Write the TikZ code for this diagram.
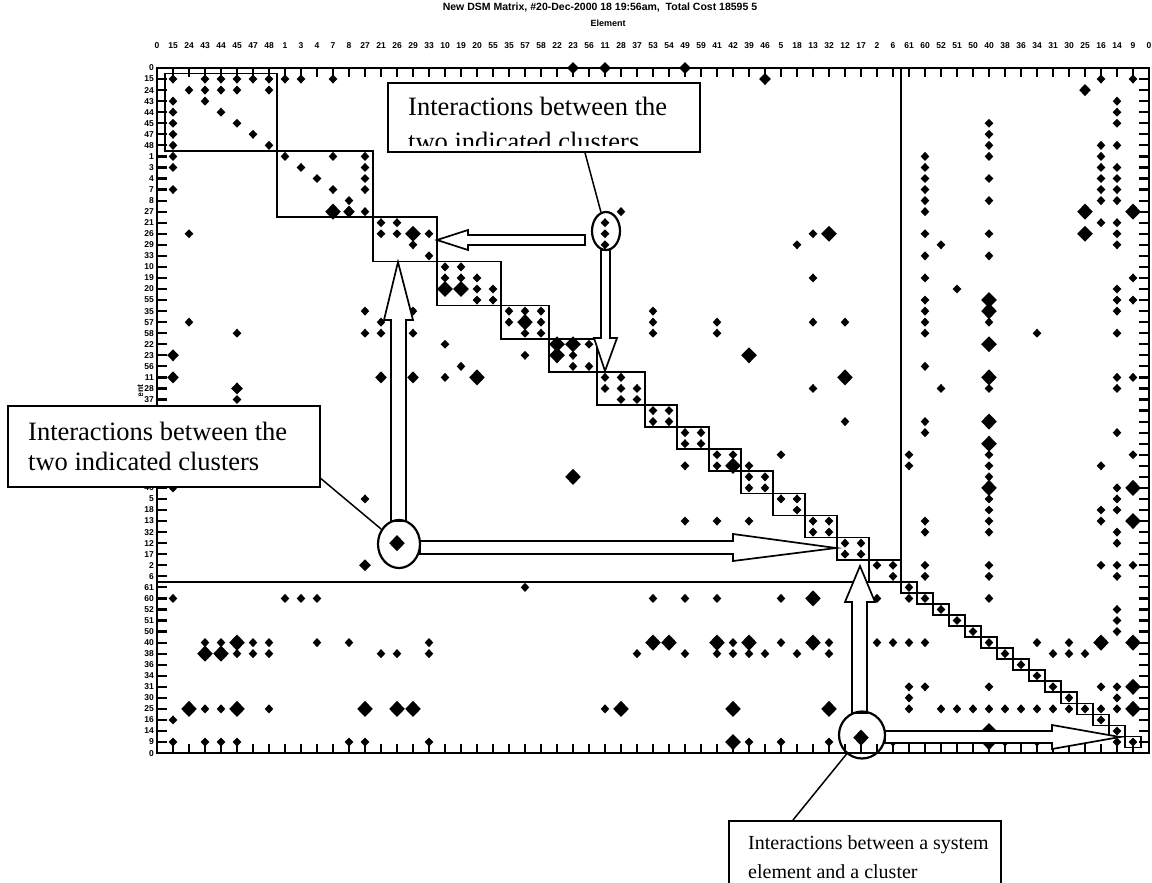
\documentclass[tikz,border=0pt]{standalone}
\usepackage{fontspec}
\setmainfont{Liberation Serif}
\newfontfamily\sansfam{Liberation Sans}
\usetikzlibrary{shapes.geometric}
\tikzset{
 frame/.style={line width=2.4pt},
 tick/.style={line width=2.2pt},
 clbox/.style={line width=1.7pt},
 callout/.style={draw, fill=white, line width=1.6pt, rectangle, inner sep=0pt},
 ptr/.style={line width=1.5pt},
 hollow/.style={draw, fill=white, line width=1.7pt, line join=miter},
 ring/.style={draw, ellipse, line width=2.2pt, inner sep=0pt},
 axlab/.style={font=\sansfam\bfseries\fontsize{8.5}{9}\selectfont, inner sep=0pt},
 titlef/.style={font=\sansfam\bfseries\fontsize{10.5}{11}\selectfont, inner sep=0pt},
 ctext/.style={font=\fontsize{26.5}{30}\selectfont, inner sep=0pt, anchor=base west},
 ctextc/.style={font=\fontsize{20}{24}\selectfont, inner sep=0pt, anchor=base west},
}
\begin{document}
\begin{tikzpicture}[x=1pt,y=-1pt]
\useasboundingbox (0,0) rectangle (1152,883);
\fill[white] (0,0) rectangle (1152,883);
\node[titlef] (title) at (600,8) {New DSM Matrix, \#20-Dec-2000 18 19:56am,\ \ Total Cost 18595 5};
\node[titlef, font=\sansfam\bfseries\fontsize{9}{10}\selectfont] (elemtop) at (608,23) {Element};
\begin{scope}
 \clip (120,382) rectangle (156,395);
 \node[titlef, font=\sansfam\bfseries\fontsize{8.5}{10}\selectfont, rotate=90] (elemleft) at (140,401) {Element};
\end{scope}
\foreach \lab [count=\k from 0] in {0,15,24,43,44,45,47,48,1,3,4,7,8,27,21,26,29,33,10,19,20,55,35,57,58,22,23,56,11,28,37,53,54,49,59,41,42,39,46,5,18,13,32,12,17,2,6,61,60,52,51,50,40,38,36,34,31,30,25,16,14,9,0} {
  \node[axlab] (tl\k) at ({157+16*\k},46) {\lab};
  \ifnum\k<31 \node[axlab, anchor=east] (ll\k) at (154,{68+11.05*\k}) {\lab};\fi
  \ifnum\k>37 \node[axlab, anchor=east] (ll\k) at (154,{68+11.05*\k}) {\lab};\fi
}
\begin{scope}[shift={(157,68)},x=16pt,y=-11.05pt]
 \draw[frame] (0,0) rectangle (62,62);
 \foreach \k in {1,...,61} {
   \draw[tick] (\k,0) -- (\k,0.8);
   \draw[tick] (\k,62) -- (\k,61.2);
   \draw[tick] (0,\k) -- (0.6,\k);
   \draw[tick] (62,\k) -- (61.4,\k);
 }
 \foreach \a/\b in {0.5/7.5,7.5/13.5,13.5/17.5,17.5/21.5,21.5/24.5,24.5/27.5,27.5/30.5,30.5/32.5,32.5/34.5,34.5/36.5,36.5/38.5,38.5/40.5,40.5/42.5,42.5/44.5,44.5/46.5}
   \draw[clbox] (\a,\a) rectangle (\b,\b);
 \foreach \k in {47,...,61}
   \draw[clbox] (\k-0.5,\k-0.5) rectangle (\k+0.5,\k+0.5);
 \draw[clbox] (0,46.5) -- (46.5,46.5) -- (46.5,0);
 % small diamonds
 \foreach \i/\j in {1/1,3/1,4/1,5/1,6/1,7/1,8/1,9/1,11/1,
  2/2,3/2,4/2,5/2,7/2,1/3,3/3,1/4,4/4,1/5,5/5,1/6,6/6,1/7,7/7,1/8,1/9,1/11,
  8/8,11/8,13/8,9/9,13/9,10/10,13/10,11/11,13/11,12/12,13/13,
  14/14,15/14,14/15,15/15,16/16,17/15,17/17,
  29/13,28/14,28/15,28/16,
  2/15,2/23,5/24,13/22,13/24,14/23,14/24,16/22,16/24,
  18/28,5/30,1/38,13/39,1/48,8/48,9/48,10/48,
  18/18,19/18,18/19,19/19,20/19,20/20,21/20,20/21,21/21,
  22/22,23/22,24/22,22/23,24/23,23/24,24/24,
  26/26,27/25,27/27,26/27,
  28/28,29/28,28/29,29/29,30/29,29/30,30/30,
  31/31,32/31,31/32,32/32,33/33,34/33,33/34,34/34,
  35/35,36/35,35/36,37/37,38/37,37/38,38/38,39/39,40/39,40/40,
  41/41,42/41,41/42,42/42,43/43,44/43,43/44,44/44,45/45,46/45,46/46,
  47/47,48/48,49/49,50/50,51/51,52/52,53/53,54/54,55/55,56/56,57/57,58/58,59/59,60/60,61/61,
  18/25,19/27,23/26,31/22,31/23,31/24,35/23,35/24,40/16,41/15,41/19,41/23,43/23,41/29,43/32,33/41,35/41,37/41,33/36,37/36,39/35,
  59/1,61/1,60/3,60/4,60/5,
  48/8,48/9,48/10,48/11,48/12,48/13,48/15,48/17,48/19,48/21,48/22,48/23,48/24,48/27,48/32,48/33,48/41,48/42,48/45,48/46,
  52/5,52/6,52/7,52/8,52/10,52/12,52/15,52/17,52/23,52/29,52/35,52/36,52/37,52/39,52/40,52/41,52/42,52/45,52/46,52/48,52/56,52/58,
  59/7,59/8,59/9,59/10,59/11,59/12,59/14,59/36,59/40,59/41,59/45,59/56,59/58,
  60/7,60/9,60/10,60/11,60/12,60/14,60/15,60/16,60/20,60/21,60/22,60/24,60/28,60/29,60/33,60/38,60/39,60/40,60/42,60/43,60/45,60/46,60/49,60/50,60/51,60/56,60/57,60/58,60/61,
  61/19,61/21,61/28,61/35,61/45,
  49/16,49/29,50/20,47/35,47/36,55/24,
  23/47,31/48,33/48,35/48,39/48,45/48,47/48,
  3/52,4/52,6/52,7/52,10/52,12/52,17/52,36/52,39/52,42/52,45/52,46/52,47/52,48/52,55/52,57/52,
  5/53,6/53,7/53,14/53,15/53,17/53,30/53,33/53,35/53,36/53,37/53,38/53,40/53,42/53,56/53,57/53,58/53,
  47/56,48/56,47/57,
  3/58,4/58,7/58,28/58,47/58,49/58,50/58,51/58,53/58,54/58,55/58,56/58,57/58,
  1/59,
  1/61,3/61,4/61,5/61,12/61,13/61,17/61,37/61,39/61,42/61,46/61,53/61,55/61,57/61}
  {\fill (\i,\j) +(-4.3pt,0pt) -- +(0pt,4.5pt) -- +(4.3pt,0pt) -- +(0pt,-4.5pt) -- cycle;}
 % medium diamonds
 \foreach \i/\j in {26/0,28/0,33/0,38/1,58/2,12/13,1/26,1/28,14/28,16/28,5/29,13/45}
  {\fill (\i,\j) +(-5.8pt,0pt) -- +(0pt,6pt) -- +(5.8pt,0pt) -- +(0pt,-6pt) -- cycle;}
 % large diamonds
 \foreach \i/\j in {11/13,16/15,15/43,18/20,19/20,23/23,25/25,26/25,25/26,36/36,20/28,26/37,37/26,42/15,43/28,
  52/21,52/22,52/25,52/28,52/32,52/34,52/38,52/60,52/61,
  58/13,58/15,61/13,61/38,61/41,61/52,61/56,61/58,
  41/48,5/52,31/52,32/52,35/52,37/52,41/52,59/52,
  3/53,4/53,2/58,5/58,13/58,15/58,16/58,29/58,36/58,42/58,36/61,44/60.6}
  {\fill (\i,\j) +(-7.8pt,0pt) -- +(0pt,8pt) -- +(7.8pt,0pt) -- +(0pt,-8pt) -- cycle;}
\end{scope}
% hollow arrows
\draw[hollow] (585,235) -- (468,235) -- (468,230) -- (437,240) -- (468,250) -- (468,245) -- (585,245) -- cycle;
\draw[hollow] (601,250) -- (601,338) -- (594,338) -- (605,371) -- (617,338) -- (610,338) -- (610,250) -- cycle;
\draw[hollow] (391,521) -- (391,320) -- (384,320) -- (398,262) -- (413,320) -- (406,320) -- (406,521) -- cycle;
\draw[hollow] (420,541) -- (733,541) -- (733,534) -- (836,548) -- (733,561) -- (733,554) -- (420,554) -- cycle;
\draw[hollow] (852,713) -- (852,602) -- (845,602) -- (860,566) -- (875,602) -- (867,602) -- (867,713) -- cycle;
\draw[hollow] (885,731) -- (1052,731) -- (1052,725) -- (1120,737) -- (1052,749) -- (1052,743) -- (885,743) -- cycle;
% rings
\node[ring, minimum width=28pt, minimum height=38pt] (e1) at (606,231) {};
\node[ring, minimum width=42pt, minimum height=48pt] (e2) at (399,544) {};
\node[ring, minimum width=46pt, minimum height=47pt] (e3) at (862,735) {};
% callout 1
\node[callout, minimum width=312pt, minimum height=69pt] (cb1) at (544,117.5) {};
\begin{scope}
 \clip (390,85) rectangle (698,145);
 \node[ctext] (cb1a) at (408,115) {Interactions between the};
 \node[ctext] (cb1b) at (408,150) {two indicated clusters};
\end{scope}
\draw[ptr] ([xshift=41pt]cb1.south) -- (e1);
% callout 2
\node[callout, minimum width=312pt, minimum height=81pt] (cb2) at (164,446.5) {};
\node[ctext] (cb2a) at (28,440) {Interactions between the};
\node[ctext] (cb2b) at (28,470) {two indicated clusters};
\draw[ptr] ([yshift=-32pt]cb2.east) -- (e2);
% callout 3
\node[callout, minimum width=272pt, minimum height=80pt, anchor=north west] (cb3) at (728,820) {};
\node[ctextc] (cb3a) at (748,849) {Interactions between a system};
\node[ctextc] (cb3b) at (748,878) {element and a cluster};
\draw[ptr] ([xshift=65pt]cb3.north west) -- (e3);
\end{tikzpicture}
\end{document}
